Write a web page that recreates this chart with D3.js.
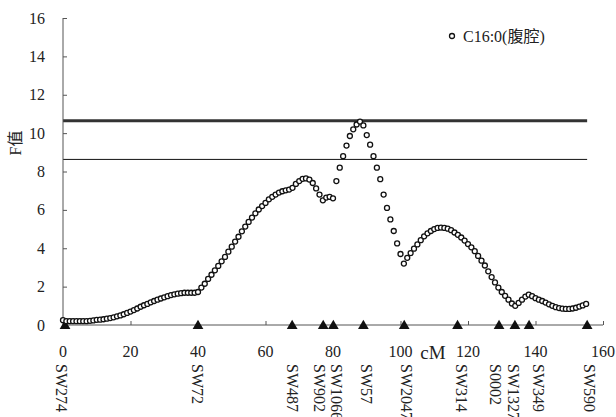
<!DOCTYPE html>
<html>
<head>
<meta charset="utf-8">
<script src="https://cdn.jsdelivr.net/npm/d3@7"></script>
<style>
  body { margin: 0; background: #fff; }
  svg text { font-family: "Liberation Serif", "Times New Roman", serif; fill: #222; }
  .cjk { font-family: "Liberation Serif", "Noto Sans CJK SC", serif; }
</style>
</head>
<body>
<svg id="chart"></svg>
<script>
// SVG size params
var width = 616;
var height = 417;

// F values along the linkage group, one point per cM starting at 0 cM
var fValues = [
  0.25, 0.2, 0.2, 0.2, 0.2, 0.2, 0.2, 0.2, 0.22, 0.24,
  0.27, 0.28, 0.3, 0.33, 0.36, 0.4, 0.45, 0.5, 0.56, 0.63,
  0.7, 0.78, 0.86, 0.95, 1.03, 1.1, 1.18, 1.25, 1.32, 1.38,
  1.44, 1.5, 1.56, 1.6, 1.63, 1.66, 1.68, 1.68, 1.68, 1.68,
  1.72, 1.95, 2.15, 2.4, 2.62, 2.85, 3.08, 3.32, 3.55, 3.82,
  4.08, 4.35, 4.6, 4.88, 5.13, 5.37, 5.6, 5.82, 6.02, 6.2,
  6.36, 6.55, 6.68, 6.8, 6.9, 6.97, 7.02, 7.06, 7.15, 7.35,
  7.5, 7.62, 7.64, 7.58, 7.4, 7.12, 6.8, 6.5, 6.64, 6.68,
  6.6, 7.5, 8.2, 8.8, 9.35, 9.85, 10.2, 10.45, 10.6, 10.4,
  9.9, 9.4, 8.8, 8.2, 7.6, 6.8, 6.1, 5.5, 4.9, 4.25,
  3.7, 3.2, 3.5, 3.75, 3.98, 4.2, 4.42, 4.62, 4.78, 4.9,
  5.0, 5.06, 5.08, 5.06, 5.02, 4.94, 4.82, 4.7, 4.56, 4.4,
  4.22, 4.05, 3.85, 3.6, 3.35, 3.1, 2.8, 2.5, 2.22, 1.95,
  1.72, 1.52, 1.32, 1.12, 1.0, 1.15, 1.32, 1.48, 1.58, 1.5,
  1.4, 1.32, 1.25, 1.17, 1.08, 1.0, 0.93, 0.88, 0.85, 0.84,
  0.84, 0.86, 0.9, 0.96, 1.02, 1.1
];
var startCM = 0;
var stepCM = 1;

// Marker names and map positions (cM)
var markerNames = ["SW274", "SW72", "SW487", "SW902", "SW1066", "SW57",
                   "SW2047", "SW314", "S0002", "SW1327", "SW349", "SW590"];
var markerPos = [0.6, 40, 67.9, 77.1, 80.1, 89, 101.1, 116.9, 129.2, 133.9, 138.1, 155.3];

// Significance thresholds
var thresholds = [10.64, 8.63];
var thresholdEnd = 155.3;

// Axis ticks and labels
var xTicks = [0, 20, 40, 60, 80, 100, 120, 140, 160];
var yTicks = [0, 2, 4, 6, 8, 10, 12, 14, 16];
var seriesName = "C16:0(腹腔)";
var yLabel = "F值";
var xUnit = "cM";

var points = fValues.map(function(v, i) { return { cm: startCM + i * stepCM, f: v }; });

// Pixel nudges so crowded marker names don't collide
var labelNudge = { SW274: -3, SW902: -4, SW1066: 3, SW57: 3, SW2047: 2,
                   SW314: 4, S0002: -3, SW1327: -1, SW349: 10, SW590: 2 };

// Initiate SVG
var svg = d3.select("#chart")
            .attr("width", width)
            .attr("height", height);

var x = d3.scaleLinear().domain([0, 160]).range([63, 603]);
var y = d3.scaleLinear().domain([0, 16]).range([325, 18]);

// Threshold lines
svg.append("line")
    .attr("x1", x(0)).attr("x2", x(thresholdEnd))
    .attr("y1", y(thresholds[0])).attr("y2", y(thresholds[0]))
    .attr("stroke", "#333").attr("stroke-width", 3);
svg.append("line")
    .attr("x1", x(0)).attr("x2", x(thresholdEnd))
    .attr("y1", y(thresholds[1])).attr("y2", y(thresholds[1]))
    .attr("stroke", "#111").attr("stroke-width", 1);

// Y axis, ticks pointing inward
var yAxis = svg.append("g")
    .attr("transform", "translate(" + x(0) + ",0)")
    .call(d3.axisRight(y).tickValues(yTicks).tickSize(4).tickFormat(""));
yAxis.select(".domain").attr("stroke", "#555").attr("d", "M0," + y(16) + "V" + y(0));
yAxis.selectAll(".tick line").attr("stroke", "#555");

svg.append("g").selectAll("text")
    .data(yTicks)
  .enter().append("text")
    .attr("x", 45)
    .attr("y", d => y(d))
    .attr("dy", "0.35em")
    .attr("text-anchor", "end")
    .style("font-size", "16px")
    .text(d => d);

// X axis, ticks pointing up
var xAxis = svg.append("g")
    .attr("transform", "translate(0," + y(0) + ")")
    .call(d3.axisTop(x).tickValues(xTicks).tickSize(4).tickFormat(""));
xAxis.select(".domain").attr("stroke", "#555").attr("d", "M" + x(0) + ",0H" + x(160));
xAxis.selectAll(".tick line").attr("stroke", "#555");

svg.append("g").selectAll("text")
    .data(xTicks)
  .enter().append("text")
    .attr("x", d => x(d))
    .attr("y", 357)
    .attr("text-anchor", "middle")
    .style("font-size", "16px")
    .text(d => d);

svg.append("text")
    .attr("x", 433)
    .attr("y", 359)
    .attr("text-anchor", "middle")
    .style("font-size", "19px")
    .text(xUnit);

// Y label
svg.append("text")
    .attr("class", "cjk")
    .attr("transform", "translate(15,143) rotate(-90)")
    .attr("text-anchor", "middle")
    .attr("dy", "0.35em")
    .style("font-size", "16px")
    .text(yLabel);

// Markers on the axis
svg.append("g").selectAll("path")
    .data(markerPos)
  .enter().append("path")
    .attr("transform", d => "translate(" + x(d) + "," + (y(0) + 1) + ")")
    .attr("d", d3.symbol().type(d3.symbolTriangle).size(50))
    .attr("fill", "#111");

svg.append("g").selectAll("text")
    .data(markerNames)
  .enter().append("text")
    .attr("transform", (d, i) => "translate(" + (x(markerPos[i]) + (labelNudge[d] || 0)) + ",364) rotate(90)")
    .attr("dy", "0.35em")
    .style("font-size", "16px")
    .text(d => d);

// Data points
svg.append("g").selectAll("circle")
    .data(points)
  .enter().append("circle")
    .attr("cx", d => x(d.cm))
    .attr("cy", d => y(d.f))
    .attr("r", 2.5)
    .attr("fill", "#fff")
    .attr("stroke", "#111")
    .attr("stroke-width", 1.3);

// Legend
svg.append("circle")
    .attr("cx", 452).attr("cy", 36).attr("r", 2.5)
    .attr("fill", "#fff").attr("stroke", "#111").attr("stroke-width", 1.3);
svg.append("text")
    .attr("class", "cjk")
    .attr("x", 463)
    .attr("y", 42)
    .style("font-size", "16px")
    .text(seriesName);
</script>
</body>
</html>
